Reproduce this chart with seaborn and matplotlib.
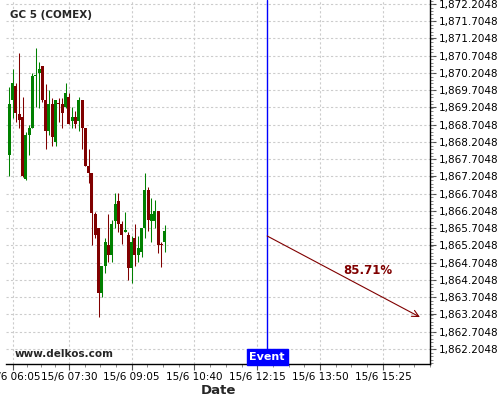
import numpy as np
import pandas as pd
import matplotlib
matplotlib.use("Agg")
import matplotlib.pyplot as plt
import matplotlib.ticker as mticker
import seaborn as sns

# 5-minute candles, 15/6
times = ["06:00", "06:05", "06:10", "06:15", "06:20", "06:25", "06:30", "06:35",
         "06:40", "06:45", "06:50", "06:55", "07:00", "07:05", "07:10", "07:15",
         "07:20", "07:25", "07:30", "07:35", "07:40", "07:45", "07:50", "07:55",
         "08:00", "08:05", "08:10", "08:15", "08:20", "08:25", "08:30", "08:35",
         "08:40", "08:45", "08:50", "08:55", "09:00", "09:05", "09:10", "09:15",
         "09:20", "09:25", "09:30", "09:35", "09:40", "09:45", "09:50", "09:55"]
opens = [1867.83, 1869.42, 1869.84, 1869.02, 1868.94, 1867.12, 1868.41, 1868.61,
         1870.12, 1870.21, 1870.41, 1869.42, 1868.53, 1869.31, 1868.21, 1869.33,
         1869.32, 1869.23, 1869.50, 1868.82, 1868.92, 1868.82, 1869.42, 1868.60,
         1867.51, 1867.31, 1866.12, 1865.70, 1863.84, 1864.61, 1865.22, 1864.94,
         1865.92, 1866.50, 1865.83, 1865.60, 1865.51, 1864.54, 1865.41, 1864.94,
         1865.02, 1865.70, 1866.81, 1865.92, 1865.92, 1866.21, 1865.25, 1865.31]
highs = [1869.81, 1870.31, 1869.91, 1870.79, 1869.50, 1868.50, 1868.70, 1870.20,
         1870.93, 1870.51, 1870.41, 1869.89, 1869.71, 1869.48, 1869.43, 1869.49,
         1869.48, 1869.91, 1869.62, 1869.21, 1869.10, 1869.51, 1869.42, 1868.60,
         1867.99, 1867.31, 1866.18, 1865.70, 1864.61, 1865.41, 1866.12, 1865.94,
         1866.72, 1866.72, 1865.91, 1866.18, 1865.60, 1865.48, 1865.83, 1865.49,
         1865.70, 1867.30, 1866.91, 1866.58, 1866.52, 1866.21, 1865.31, 1865.81]
lows = [1867.22, 1868.89, 1868.79, 1868.60, 1867.20, 1867.10, 1867.83, 1868.60,
        1869.22, 1869.20, 1869.37, 1867.99, 1868.41, 1868.09, 1868.10, 1868.79,
        1868.60, 1869.18, 1868.72, 1868.60, 1868.60, 1868.51, 1867.99, 1867.51,
        1867.01, 1865.22, 1865.41, 1863.12, 1863.70, 1864.40, 1864.73, 1864.73,
        1865.70, 1865.60, 1865.25, 1865.59, 1864.20, 1864.11, 1864.61, 1864.73,
        1864.88, 1865.41, 1865.62, 1865.31, 1865.71, 1865.00, 1864.59, 1865.02]
closes = [1869.31, 1869.92, 1869.04, 1868.84, 1867.22, 1868.41, 1868.61, 1870.12,
          1870.15, 1870.32, 1869.42, 1868.53, 1869.31, 1868.35, 1869.42, 1869.31,
          1869.04, 1869.63, 1868.73, 1868.92, 1868.73, 1869.42, 1868.60, 1867.51,
          1867.31, 1866.14, 1865.51, 1863.84, 1864.61, 1865.31, 1864.94, 1865.83,
          1866.41, 1865.83, 1865.51, 1865.65, 1864.54, 1865.31, 1864.93, 1865.12,
          1865.70, 1866.81, 1865.93, 1866.12, 1866.20, 1865.22, 1865.22, 1865.63]

event_time = "12:30"
arrow_start = ("12:30", 1865.48)
arrow_end = ("16:21", 1863.13)
prob_label = "85.71%"
tick_times = ["06:05", "07:30", "09:05", "10:40", "12:15", "13:50", "15:25"]


def to_min(t):
    h, m = t.split(":")
    return int(h) * 60 + int(m)


df = pd.DataFrame({"t": [to_min(t) for t in times], "open": opens, "high": highs,
                   "low": lows, "close": closes})
df["up"] = df.close >= df.open
df["color"] = np.where(df.up, "#008000", "#800000")

sns.set_theme(style="white")
plt.rcParams["font.family"] = ["DejaVu Sans"]

fig = plt.figure(figsize=(5, 4), dpi=100)
ax = fig.add_axes([0.012, 0.09, 0.848, 0.91])

# wicks and bodies
ax.vlines(df.t, df.low, df.high, colors=df.color, lw=0.75)
body = (df.close - df.open).abs().clip(lower=0.03)
ax.bar(df.t, body, bottom=np.minimum(df.open, df.close), width=4.5,
       color=df.color, linewidth=0)

ax.set_xlim(355, 987)
ax.set_ylim(1861.77, 1872.32)

# event marker
ev = to_min(event_time)
ax.axvline(ev, color="blue", lw=1)
ax.annotate("Event", xy=(ev, 0), xycoords=("data", "axes fraction"),
            xytext=(0, 1.5), textcoords="offset points",
            ha="center", va="bottom", color="white", fontsize=8, fontweight="bold",
            bbox=dict(boxstyle="square,pad=0.25", fc="blue", ec="blue"))

# forecast arrow
ax.annotate("", xy=(to_min(arrow_end[0]), arrow_end[1]),
            xytext=(to_min(arrow_start[0]), arrow_start[1]),
            arrowprops=dict(arrowstyle="->", color="#800000", lw=0.8,
                            mutation_scale=12, shrinkA=0, shrinkB=0))
ax.text(902, 1864.47, prob_label, color="#800000", fontsize=8.5,
        fontweight="bold", ha="center", va="center")

# axes styling
ax.yaxis.tick_right()
yt = [1862.2048 + 0.5 * i for i in range(21)]
ax.set_yticks(yt)
ax.yaxis.set_major_formatter(mticker.FuncFormatter(lambda v, p: f"{v:,.4f}"))
ax.yaxis.set_minor_locator(mticker.MultipleLocator(0.1))
xt = [to_min(t) for t in tick_times]
ax.set_xticks(xt)
ax.set_xticklabels(["15/6 " + t for t in tick_times])
minor_x = []
for a, b in zip(xt[:-1], xt[1:]):
    minor_x += [a + (b - a) * k / 4 for k in (1, 2, 3)]
minor_x += [xt[-1] + 95 * k / 4 for k in (1, 2, 3)]
ax.set_xticks(minor_x, minor=True)

ax.tick_params(axis="both", which="major", labelsize=7.5, length=4, width=0.8,
               color="#555555", pad=2, labelcolor="black")
ax.tick_params(axis="y", which="both", right=True, left=False, direction="out")
ax.tick_params(axis="both", which="minor", length=2, width=0.6, color="#777777")
ax.tick_params(axis="x", which="both", bottom=True)

ax.grid(True, which="major", color="#cccccc", linestyle=(0, (2, 2)), lw=0.8)
for s in ["left", "top"]:
    ax.spines[s].set_visible(False)
for s in ["right", "bottom"]:
    ax.spines[s].set_color("black")
    ax.spines[s].set_linewidth(1)

ax.set_xlabel("Date", fontsize=9.5, fontweight="bold", labelpad=1)

fig.text(0.02, 1 - 15 / 400, "GC 5 (COMEX)", fontsize=7.5, fontweight="bold",
         va="center", ha="left")
fig.text(0.03, 1 - 354 / 400, "www.delkos.com", fontsize=7.5, fontweight="bold",
         va="center", ha="left")

fig.savefig("out.png", dpi=100)
